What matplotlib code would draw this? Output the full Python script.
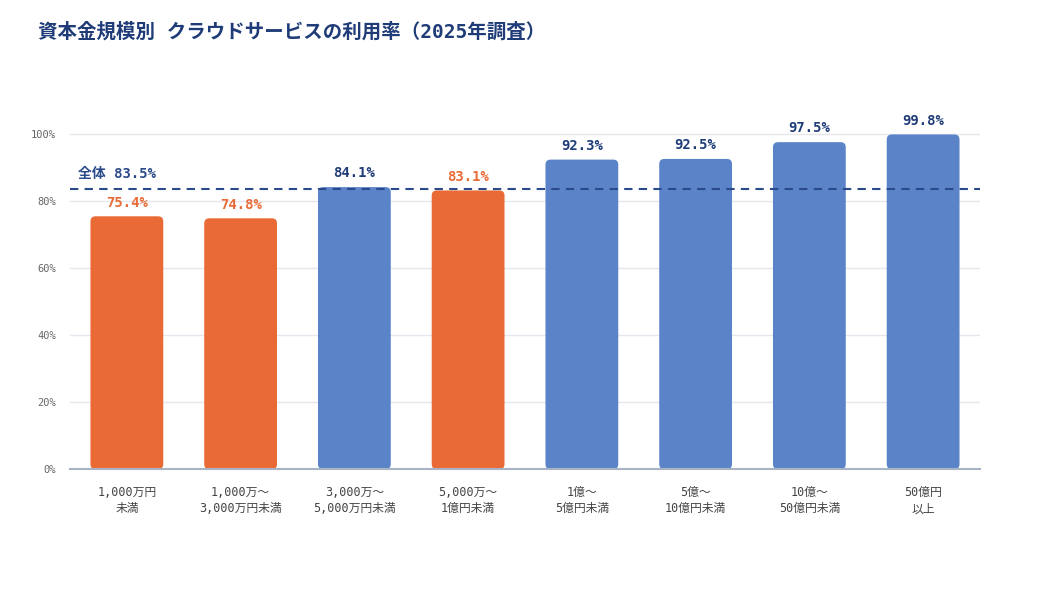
import matplotlib.pyplot as plt
from matplotlib.patches import FancyBboxPatch
from matplotlib.ticker import FuncFormatter

# Ziffern aus der Mono-Schrift, japanische Zeichen aus Noto
plt.rcParams['font.family'] = ['DejaVu Sans Mono', 'Noto Sans CJK JP']

# Daten
kategorien = ["1,000万円\n未満", "1,000万～\n3,000万円未満", "3,000万～\n5,000万円未満",
              "5,000万～\n1億円未満", "1億～\n5億円未満", "5億～\n10億円未満",
              "10億～\n50億円未満", "50億円\n以上"]
werte = [75.4, 74.8, 84.1, 83.1, 92.3, 92.5, 97.5, 99.8]
gesamt = 83.5

orange = "#EA6A35"
blau = "#5B84C8"
navy = "#1F3C78"

fig = plt.figure(figsize=(10.4, 6), dpi=100)
ax = fig.add_axes([0.0673, 0.218, 0.8750, 0.587])

breite = 0.64
for i, w in enumerate(werte):
    farbe = orange if w < gesamt else blau
    ax.add_patch(FancyBboxPatch((i - breite / 2, 0), breite, w,
                                boxstyle="round,pad=0,rounding_size=0.045",
                                mutation_aspect=34, facecolor=farbe,
                                edgecolor="none", zorder=3))
    ax.text(i, w + 2.0, f"{w:.1f}%", ha="center", va="bottom",
            fontsize=10, fontweight="bold",
            color=orange if w < gesamt else navy, zorder=4)

ax.axhline(gesamt, color="#2B4A8B", linestyle=(0, (4, 3)), linewidth=1.5, zorder=5)
ax.text(-0.43, gesamt + 2.5, f"全体 {gesamt}%", ha="left", va="bottom",
        fontsize=10, fontweight="bold", color="#2B4A8B")

ax.set_xlim(-0.5, len(werte) - 0.5)
ax.set_ylim(0, 105)
ax.set_yticks([0, 20, 40, 60, 80, 100])
ax.yaxis.set_major_formatter(FuncFormatter(lambda v, p: f"{v:.0f}%"))
ax.set_xticks(range(len(werte)))
ax.set_xticklabels(kategorien, fontsize=8.5, color="#444444", linespacing=1.35)
ax.tick_params(axis="y", labelsize=7.5, colors="#666666", length=0, pad=10)
ax.tick_params(axis="x", length=0, pad=12)

ax.yaxis.grid(color="#E6E7EE", linewidth=1, zorder=0)
ax.set_axisbelow(True)
for s in ["top", "right", "left"]:
    ax.spines[s].set_visible(False)
ax.spines["bottom"].set_color("#A9B3C6")
ax.spines["bottom"].set_linewidth(1.5)
ax.spines["bottom"].set_zorder(6)

fig.text(38 / 1040, 1 - 32 / 600, "資本金規模別 クラウドサービスの利用率（2025年調査）",
         ha="left", va="center", fontsize=14, fontweight="bold", color=navy)

plt.savefig("out.png", dpi=100)
